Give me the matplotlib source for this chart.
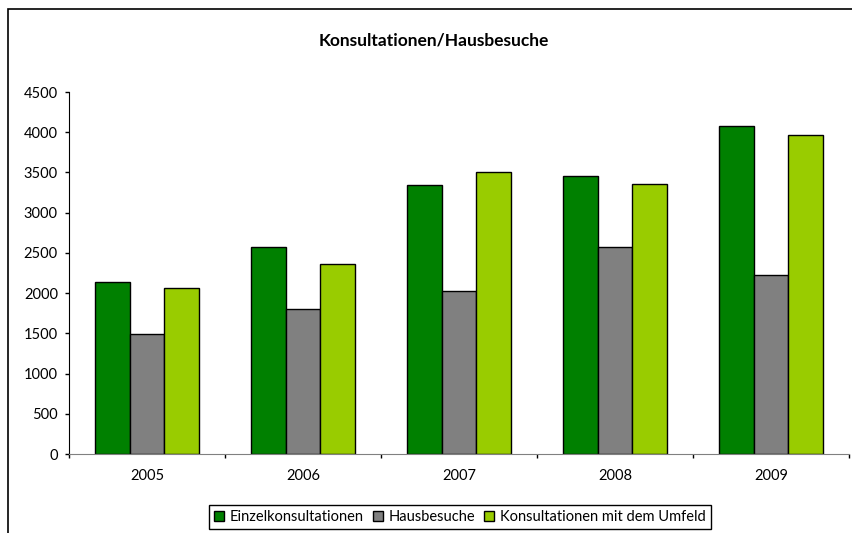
import matplotlib
matplotlib.use("Agg")
import matplotlib.pyplot as plt
from matplotlib.patches import Rectangle
import numpy as np

plt.rcParams['font.family'] = ['Lato', 'DejaVu Sans']

years = ["2005", "2006", "2007", "2008", "2009"]
einzel = [2140, 2570, 3340, 3460, 4080]
hausbesuche = [1490, 1800, 2030, 2570, 2220]
umfeld = [2060, 2360, 3510, 3360, 3960]
series_names = ["Einzelkonsultationen", "Hausbesuche", "Konsultationen mit dem Umfeld"]
colors = ["#008000", "#808080", "#99CC00"]

fig = plt.figure(figsize=(8.52, 5.33), dpi=100)
ax = fig.add_axes([69/852, 1-454/533, 780/852, (454-92)/533])

x = np.arange(len(years))
w = 1/4.5
for i, (vals, name, c) in enumerate(zip([einzel, hausbesuche, umfeld], series_names, colors)):
    ax.bar(x + (i-1)*w, vals, width=w, color=c, edgecolor="black", linewidth=1, label=name)

ax.set_xlim(-0.5, len(years)-0.5)
ax.set_ylim(0, 4500)
ax.set_yticks(np.arange(0, 4501, 500))
ax.tick_params(axis='y', direction='out', length=3, width=1, pad=5, labelsize=10.5)

ax.set_xticks(np.arange(-0.5, len(years)), [""]*(len(years)+1))
ax.set_xticks(x, years, minor=True)
ax.tick_params(axis='x', which='major', direction='out', length=3, width=1)
ax.tick_params(axis='x', which='minor', length=0, pad=11, labelsize=10.5)

for s in ["top", "right"]:
    ax.spines[s].set_visible(False)
ax.spines["bottom"].set_color("#808080")
ax.spines["left"].set_color("black")

fig.text(434/852, 1-40/533, "Konsultationen/Hausbesuche", ha="center", va="center",
         fontsize=12.5, fontweight="bold")

# outer chart frame, running off the right and bottom edges
fig.patches.append(Rectangle((8/852, -0.1), 2, 1-9/533+0.1, transform=fig.transFigure,
                             fill=False, edgecolor="black", linewidth=1.2))

fig.legend(loc="upper center", bbox_to_anchor=(460/852, 1-505/533), ncol=3,
           frameon=True, fancybox=False, edgecolor="black", framealpha=1,
           fontsize=10.5, handlelength=0.7, handleheight=0.7, handletextpad=0.4,
           columnspacing=0.6, borderpad=0.35, borderaxespad=0)

fig.savefig("out.png", dpi=100)
